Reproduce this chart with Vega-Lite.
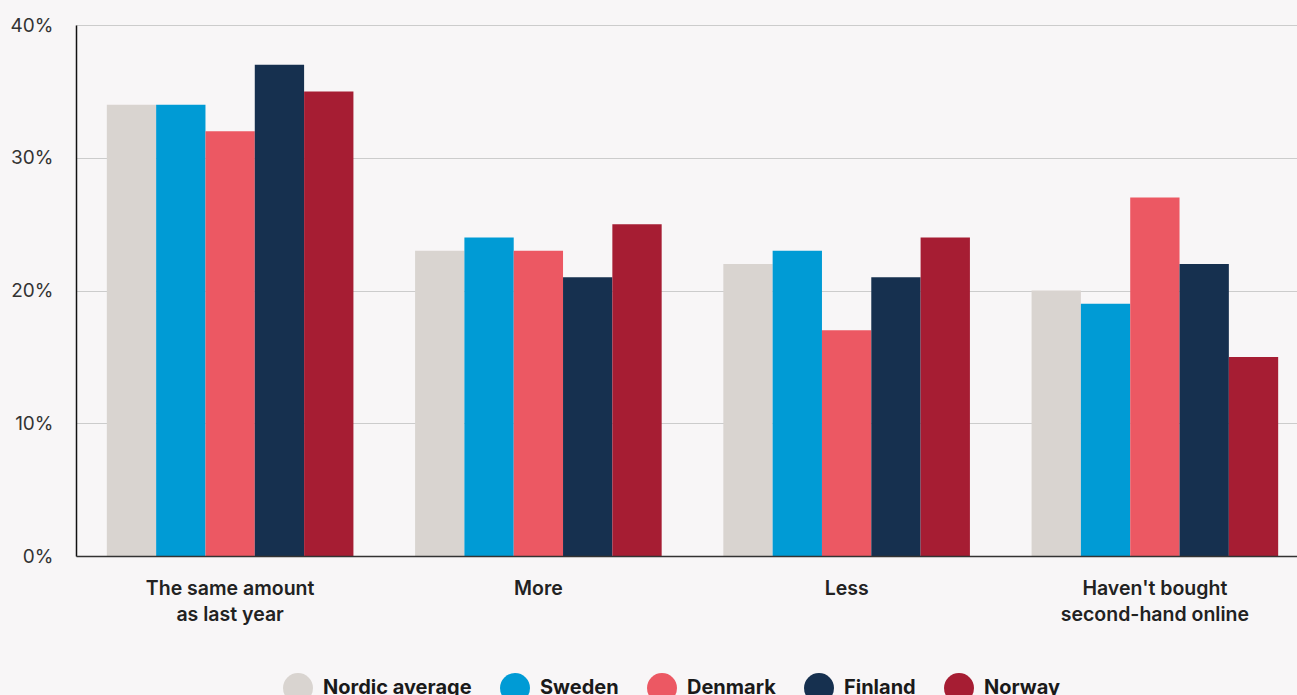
{
  "$schema": "https://vega.github.io/schema/vega-lite/v6.json",
  "autosize": {"type": "none"},
  "padding": {"left": 76, "top": 25, "right": 0, "bottom": 139},
  "width": 1233,
  "height": 531,
  "background": "#f8f6f7",
  "config": {
    "view": {"stroke": null},
    "font": "Inter"
  },
  "data": {
    "values": [
      {"answer": "The same amount as last year", "country": "Nordic average", "share": 34},
      {"answer": "The same amount as last year", "country": "Sweden", "share": 34},
      {"answer": "The same amount as last year", "country": "Denmark", "share": 32},
      {"answer": "The same amount as last year", "country": "Finland", "share": 37},
      {"answer": "The same amount as last year", "country": "Norway", "share": 35},
      {"answer": "More", "country": "Nordic average", "share": 23},
      {"answer": "More", "country": "Sweden", "share": 24},
      {"answer": "More", "country": "Denmark", "share": 23},
      {"answer": "More", "country": "Finland", "share": 21},
      {"answer": "More", "country": "Norway", "share": 25},
      {"answer": "Less", "country": "Nordic average", "share": 22},
      {"answer": "Less", "country": "Sweden", "share": 23},
      {"answer": "Less", "country": "Denmark", "share": 17},
      {"answer": "Less", "country": "Finland", "share": 21},
      {"answer": "Less", "country": "Norway", "share": 24},
      {"answer": "Haven't bought second-hand online", "country": "Nordic average", "share": 20},
      {"answer": "Haven't bought second-hand online", "country": "Sweden", "share": 19},
      {"answer": "Haven't bought second-hand online", "country": "Denmark", "share": 27},
      {"answer": "Haven't bought second-hand online", "country": "Finland", "share": 22},
      {"answer": "Haven't bought second-hand online", "country": "Norway", "share": 15}
    ]
  },
  "mark": {"type": "bar"},
  "encoding": {
    "x": {
      "field": "answer",
      "type": "nominal",
      "sort": ["The same amount as last year", "More", "Less", "Haven't bought second-hand online"],
      "scale": {"paddingInner": 0.2, "paddingOuter": 0.1},
      "axis": {
        "title": null,
        "labelAngle": 0,
        "labelExpr": "datum.value == 'The same amount as last year' ? ['The same amount', 'as last year'] : datum.value == \"Haven't bought second-hand online\" ? [\"Haven't bought\", 'second-hand online'] : datum.value",
        "labelFontSize": 19.5,
        "labelFontWeight": 600,
        "labelColor": "#222222",
        "labelLineHeight": 26,
        "labelPadding": 23,
        "labelLimit": 400,
        "ticks": false,
        "domainColor": "#333333",
        "domainWidth": 1.5,
        "grid": false,
        "zindex": 1
      }
    },
    "xOffset": {
      "field": "country",
      "type": "nominal",
      "sort": ["Nordic average", "Sweden", "Denmark", "Finland", "Norway"],
      "scale": {"paddingInner": 0, "paddingOuter": 0}
    },
    "y": {
      "field": "share",
      "type": "quantitative",
      "scale": {"domain": [0, 40]},
      "axis": {
        "title": null,
        "values": [0, 10, 20, 30, 40],
        "labelExpr": "datum.value + '%'",
        "labelFontSize": 19,
        "labelColor": "#333333",
        "labelPadding": 23,
        "ticks": false,
        "domainColor": "#111111",
        "domainWidth": 1.5,
        "gridColor": "#cccccc",
        "gridWidth": 1
      }
    },
    "color": {
      "field": "country",
      "type": "nominal",
      "sort": ["Nordic average", "Sweden", "Denmark", "Finland", "Norway"],
      "scale": {
        "domain": ["Nordic average", "Sweden", "Denmark", "Finland", "Norway"],
        "range": ["#d9d4d0", "#009bd5", "#ec5863", "#16304f", "#a61d33"]
      },
      "legend": {
        "title": null,
        "orient": "none",
        "direction": "horizontal",
        "legendX": 207,
        "legendY": 648,
        "symbolType": "circle",
        "symbolSize": 900,
        "symbolStrokeWidth": 0,
        "symbolOpacity": 1,
        "labelFontSize": 20,
        "labelFontWeight": 700,
        "labelColor": "#1a1a1a",
        "labelOffset": 10,
        "columnPadding": 28,
        "labelLimit": 300
      }
    }
  }
}
